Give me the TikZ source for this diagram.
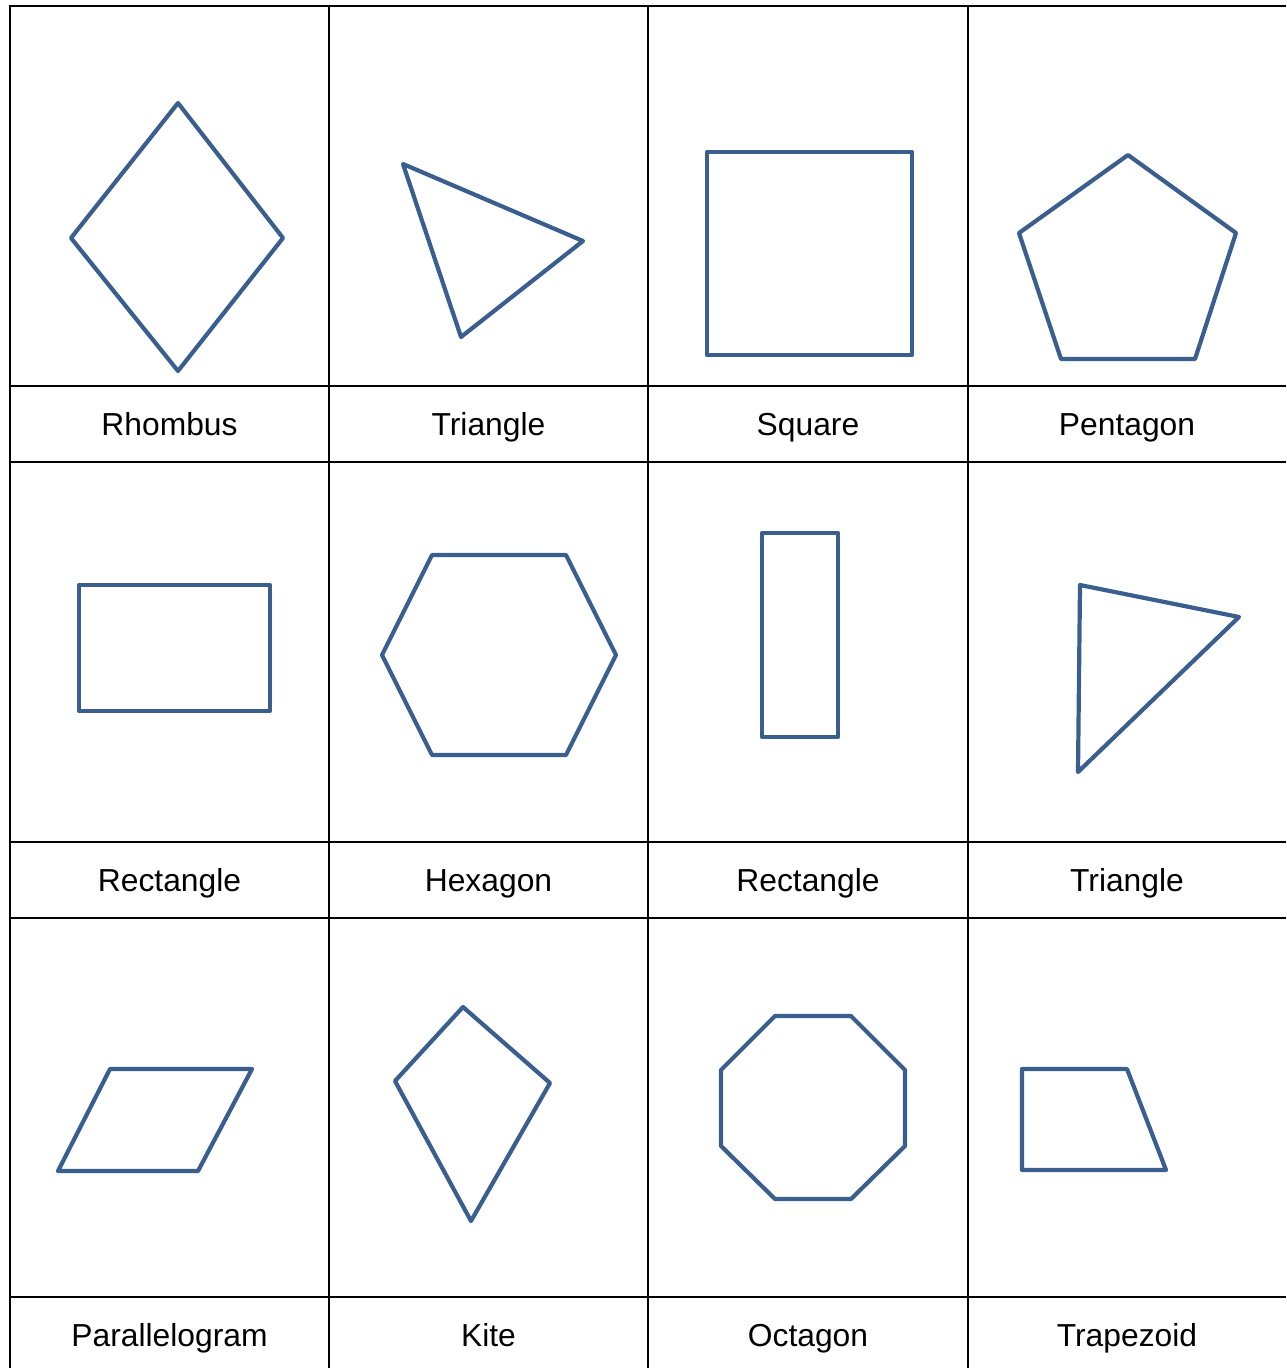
\documentclass[tikz,border=0pt]{standalone}
\usepackage{fontspec}
\setmainfont{Liberation Sans}
\definecolor{shapeblue}{HTML}{3A5F8F}
\tikzset{
  grid/.style={line width=2pt, black},
  shp/.style={line width=4.2pt, shapeblue, line join=round, line cap=round},
  lbl/.style={font=\fontsize{31.8pt}{36pt}\selectfont, inner sep=0pt, anchor=base}
}
\begin{document}
\begin{tikzpicture}[x=1pt,y=-1pt]
\useasboundingbox (0,0) rectangle (1286,1368);
% grid
\draw[grid] (10,1368) -- (10,6) -- (1286,6);
\foreach \x in {329,648,968} \draw[grid] (\x,6) -- (\x,1368);
\foreach \y in {386,462,842,918,1297} \draw[grid] (10,\y) -- (1286,\y);
% row 1
\draw[shp] (178,103) -- (283,238) -- (178,371) -- (71,238) -- cycle;
\draw[shp] (403,164) -- (583,241) -- (461,337) -- cycle;
\draw[shp] (707,152) rectangle (912,355);
\draw[shp] (1128,155) -- (1236,233) -- (1195,359) -- (1061,359) -- (1019,233) -- cycle;
% row 2
\draw[shp] (79,585) rectangle (270,711);
\draw[shp] (432,555) -- (566,555) -- (616,655) -- (566,755) -- (432,755) -- (382,655) -- cycle;
\draw[shp] (762,533) rectangle (838,737);
\draw[shp] (1080,585) -- (1239,617) -- (1078,772) -- cycle;
% row 3
\draw[shp] (110,1069) -- (252,1069) -- (198,1171) -- (58,1171) -- cycle;
\draw[shp] (463,1007) -- (550,1083) -- (471,1221) -- (395,1081) -- cycle;
\draw[shp] (775,1016) -- (851,1016) -- (905,1070) -- (905,1146) -- (851,1199) -- (775,1199) -- (721,1146) -- (721,1070) -- cycle;
\draw[shp] (1022,1069) -- (1127,1069) -- (1166,1170) -- (1022,1170) -- cycle;
% labels
\node[lbl] (l1) at (169.5,435) {Rhombus};
\node[lbl] (l2) at (488.5,435) {Triangle};
\node[lbl] (l3) at (808,435) {Square};
\node[lbl] (l4) at (1127,435) {Pentagon};
\node[lbl] (l5) at (169.5,891) {Rectangle};
\node[lbl] (l6) at (488.5,891) {Hexagon};
\node[lbl] (l7) at (808,891) {Rectangle};
\node[lbl] (l8) at (1127,891) {Triangle};
\node[lbl] (l9) at (169.5,1346) {Parallelogram};
\node[lbl] (l10) at (488.5,1346) {Kite};
\node[lbl] (l11) at (808,1346) {Octagon};
\node[lbl] (l12) at (1127,1346) {Trapezoid};
\end{tikzpicture}
\end{document}
